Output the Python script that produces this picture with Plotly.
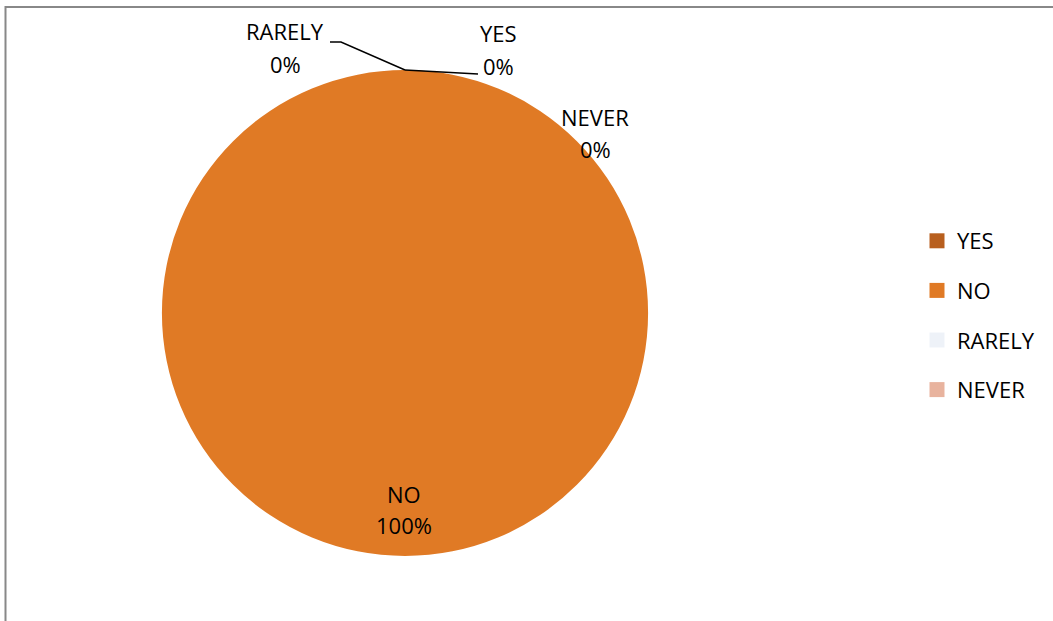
import plotly.graph_objects as go

W, H = 1053, 621

categories = ["YES", "NO", "RARELY", "NEVER"]
values = [0, 100, 0, 0]
colors = ["#B85F1E", "#E07A25", "#EEF2F8", "#E8B39E"]

# label positions (pixel) for data labels: (x, y_label, y_percent)
label_pos = {
    "RARELY": (285, 31, 64),
    "YES": (498, 33, 66),
    "NEVER": (595, 117, 149),
    "NO": (404, 494, 525),
}

FONT = "Open Sans"
FS = 22

def px(x):
    return x / W

def py(y):
    return 1 - y / H

total = sum(values)
fig = go.Figure()

fig.add_trace(go.Pie(
    labels=categories,
    values=values,
    marker=dict(colors=colors, line=dict(width=0)),
    textinfo="none",
    sort=False,
    direction="clockwise",
    rotation=0,
    showlegend=False,
    domain=dict(x=[px(162), px(648)], y=[py(556), py(70)]),
    hoverinfo="label+percent",
))

# legend entries (square swatches)
for c, col in zip(categories, colors):
    fig.add_trace(go.Scatter(
        x=[None], y=[None], mode="markers", name=c,
        marker=dict(symbol="square", size=15, color=col),
        legendgroup=c, showlegend=True,
    ))

annotations = []
for c, v in zip(categories, values):
    x, yl, yp = label_pos[c]
    pct = round(100 * v / total) if total else 0
    annotations.append(dict(x=px(x), y=py(yl), xref="paper", yref="paper",
                            text=c, showarrow=False, xanchor="center", yanchor="middle",
                            font=dict(size=FS, color="#000000", family=FONT)))
    annotations.append(dict(x=px(x), y=py(yp), xref="paper", yref="paper",
                            text=f"{pct}%", showarrow=False, xanchor="center", yanchor="middle",
                            font=dict(size=FS, color="#000000", family=FONT)))

shapes = [
    # chart border (left & top visible)
    dict(type="rect", xref="paper", yref="paper",
         x0=px(5.5), x1=1.02, y0=-0.02, y1=py(7),
         line=dict(color="#888888", width=2), fillcolor="rgba(0,0,0,0)", layer="below"),
    # leader lines
    dict(type="path", xref="paper", yref="paper",
         path=f"M {px(330)},{py(42)} L {px(341)},{py(42)} L {px(405)},{py(70)}",
         line=dict(color="#000000", width=1.5)),
    dict(type="path", xref="paper", yref="paper",
         path=f"M {px(405)},{py(70)} L {px(478)},{py(74)}",
         line=dict(color="#000000", width=1.5)),
]

fig.update_layout(
    width=W, height=H,
    margin=dict(l=0, r=0, t=0, b=0),
    paper_bgcolor="white", plot_bgcolor="white",
    font=dict(family=FONT, size=FS, color="#000000"),
    xaxis=dict(visible=False), yaxis=dict(visible=False),
    legend=dict(x=px(917), y=py(315.5), xanchor="left", yanchor="middle",
                font=dict(size=FS, family=FONT), tracegroupgap=18,
                bgcolor="rgba(0,0,0,0)"),
    annotations=annotations,
    shapes=shapes,
)

fig.write_html("out.html", config={"displayModeBar": False},
               post_script="document.body.style.margin='0';document.body.style.overflow='hidden';")
